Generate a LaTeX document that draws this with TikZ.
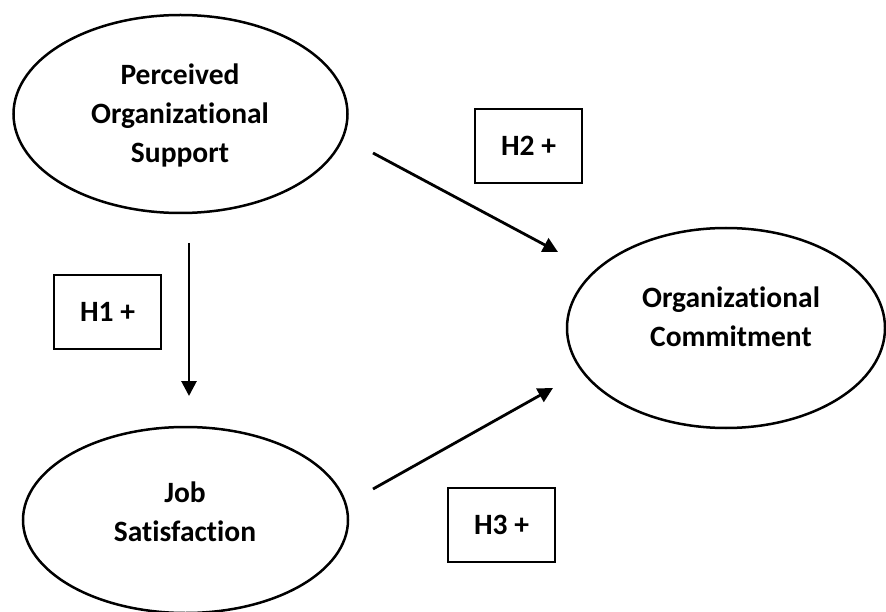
\documentclass[tikz,border=0pt]{standalone}
\usepackage{fontspec}
\setmainfont[Ligatures={NoCommon}]{Carlito}
\usetikzlibrary{shapes.geometric,arrows.meta}
\begin{document}
\begin{tikzpicture}[x=1pt,y=-1pt,
  ell/.style={draw,ellipse,line width=2.5pt,inner sep=0pt},
  lbl/.style={align=center,font=\bfseries\fontsize{29.5}{39}\selectfont,inner sep=0pt},
  hbox/.style={draw,rectangle,line width=2.4pt,minimum width=107pt,minimum height=74pt,inner sep=0pt,font=\bfseries\fontsize{29.5}{32}\selectfont},
  arr/.style={line width=2.8pt,-{Triangle[length=15pt,width=15pt]}}]
\useasboundingbox (0,0) rectangle (886,612);
\node[ell,minimum width=334pt,minimum height=198pt] (pos) at (180.5,114) {};
\node[lbl] (post) at (180,115) {Perceived\\Organizational\\Support};
\node[ell,minimum width=325pt,minimum height=186pt] (js) at (185.5,520) {};
\node[lbl] (jst) at (185,512) {Job\\Satisfaction};
\node[ell,minimum width=318pt,minimum height=200pt] (oc) at (726,328) {};
\node[lbl] (oct) at (731,317) {Organizational\\Commitment};
\node[hbox] (h1) at (107.5,312) {H1 +};
\node[hbox] (h2) at (528.5,146) {H2 +};
\node[hbox] (h3) at (501.5,525) {H3 +};
\coordinate (a1s) at (189,243);
\coordinate (a1e) at (189,396);
\coordinate (a2s) at (373,153);
\coordinate (a2e) at (558,252);
\coordinate (a3s) at (373,489);
\coordinate (a3e) at (553,388);
\draw[arr] (a1s) -- (a1e);
\draw[arr] (a2s) -- (a2e);
\draw[arr] (a3s) -- (a3e);
\end{tikzpicture}
\end{document}
